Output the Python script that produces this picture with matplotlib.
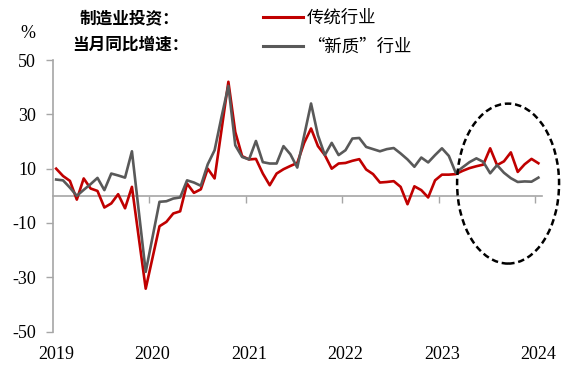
import numpy as np
import pandas as pd
import matplotlib
matplotlib.use('Agg')
import matplotlib.pyplot as plt
import matplotlib.transforms as mtransforms
from matplotlib.patches import Ellipse
from matplotlib.lines import Line2D

# ---------------- data ----------------
months = pd.date_range('2019-01-01', periods=71, freq='MS')

traditional = [10.0, 7.3, 5.5, -1.4, 6.4, 2.7, 1.8, -4.3, -2.8, 0.6, -4.6, 3.3,
               -15.5, -34.2, -22.7, -11.2, -9.6, -6.5, -5.7, 4.5, 1.1, 2.4, 10.0, 6.4,
               24.2, 42.0, 23.5, 14.6, 13.4, 13.6, 8.2, 3.9, 8.2, 9.8, 11.0, 12.1,
               19.5, 24.8, 18.3, 15.0, 10.0, 11.9, 12.1, 12.9, 13.5, 9.7, 8.0, 4.9,
               5.1, 5.4, 3.3, -3.1, 3.5, 2.1, -0.6, 5.7, 7.8, 7.8, 8.0, 9.2,
               10.2, 10.9, 11.5, 17.5, 11.3, 12.7, 16.0, 8.8, 11.6, 13.6, 12.0]

new_quality = [6.0, 5.7, 3.0, 0.0, 2.2, 4.3, 6.6, 2.1, 8.2, 7.5, 6.7, 16.4,
               -5.8, -28.0, -15.1, -2.2, -2.0, -1.0, -0.6, 5.7, 4.9, 3.7, 11.6, 16.8,
               29.0, 40.5, 18.6, 14.3, 13.4, 20.2, 12.4, 11.9, 11.9, 18.3, 15.3, 10.4,
               22.2, 34.0, 22.3, 15.0, 19.5, 15.0, 16.8, 21.1, 21.3, 18.0, 17.2, 16.4,
               17.2, 17.6, 15.6, 13.4, 10.7, 14.1, 12.3, 15.0, 17.5, 14.7, 8.5, 10.5,
               12.4, 13.8, 12.5, 8.3, 11.3, 8.5, 6.5, 5.1, 5.3, 5.2, 6.7]

series_names = ['传统行业', '“新质”行业']
title_lines = ['制造业投资：', '当月同比增速：']
y_ticks = [-50, -30, -10, 10, 30, 50]
label_step = 14

# ---------------- figure ----------------
RED = '#C00000'
GRAY = '#595959'
AXC = '#A6A6A6'
SERIF = ['Liberation Serif', 'DejaVu Serif']
CJK = ['Noto Sans CJK SC', 'DejaVu Sans']

fig = plt.figure(figsize=(5.83, 3.73), dpi=100)
ax = fig.add_axes([0.0904, 0.111, 0.839, 0.728])

x = np.arange(len(months))
ax.plot(x, traditional, color=RED, lw=1.9, solid_joinstyle='round', zorder=3)
ax.plot(x, new_quality, color=GRAY, lw=1.9, solid_joinstyle='round', zorder=4)

ax.set_xlim(-0.5, len(months) - 0.5)
ax.set_ylim(-50, 50)

for s in ['top', 'right']:
    ax.spines[s].set_visible(False)
ax.spines['left'].set_color(AXC)
ax.spines['left'].set_linewidth(1.2)
ax.spines['bottom'].set_position(('data', 0))
ax.spines['bottom'].set_color(AXC)
ax.spines['bottom'].set_linewidth(1.2)

ax.set_yticks(y_ticks)
ax.set_yticklabels([str(v) for v in y_ticks], fontfamily=SERIF, fontsize=13)
ax.tick_params(axis='y', direction='out', length=5, width=1, color=AXC, pad=7)

lab_idx = list(range(0, len(months), label_step))
ax.set_xticks([i + label_step - 0.5 for i in lab_idx[:-1]])
ax.set_xticklabels([])
ax.tick_params(axis='x', direction='out', length=5, width=1, color=AXC)

trans = mtransforms.blended_transform_factory(ax.transData, ax.transAxes)
for i in lab_idx:
    ax.text(i, -0.086, str(months[i].year), transform=trans, ha='center', va='center',
            fontfamily=SERIF, fontsize=13)

# dashed ellipse highlight
ell = Ellipse((65.6, 4.5), width=14.8, height=58.9, fill=False, edgecolor='black',
              lw=1.8, linestyle=(0, (2.6, 1.5)), clip_on=False, zorder=5)
ax.add_patch(ell)

# unit
fig.text(28 / 583, 1 - 33 / 373, '%', ha='center', va='center',
         fontfamily=SERIF, fontsize=13)

# title
fig.text(130 / 583, 1 - 18 / 373, title_lines[0], ha='center', va='center',
         fontfamily=CJK, fontsize=12, fontweight='bold')
fig.text(130 / 583, 1 - 45 / 373, title_lines[1], ha='center', va='center',
         fontfamily=CJK, fontsize=12, fontweight='bold')

# legend (manual)
for yy, col, name in [(17, RED, series_names[0]), (46, GRAY, series_names[1])]:
    fy = 1 - yy / 373
    fig.add_artist(Line2D([263 / 583, 303 / 583], [fy, fy], color=col, lw=2.2,
                          transform=fig.transFigure))
    fig.text(307 / 583, 1 - (yy + 1) / 373, name, ha='left', va='center',
             fontfamily=CJK, fontsize=12.5)

fig.savefig('out.png', dpi=100)
